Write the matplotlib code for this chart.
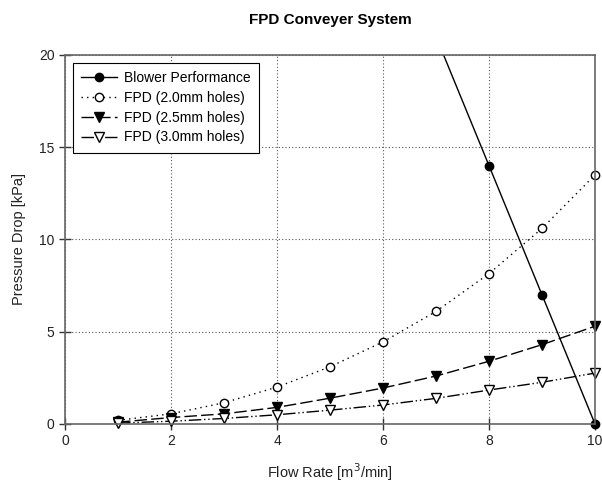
import matplotlib
matplotlib.use("Agg")
import matplotlib.pyplot as plt
from matplotlib.patches import Rectangle

plt.rcParams['font.family'] = ['Liberation Sans', 'DejaVu Sans']

# data
blower_x = [7, 8, 9, 10]
blower_y = [21, 14, 7, 0]

flow = [1, 2, 3, 4, 5, 6, 7, 8, 9, 10]
fpd_20 = [0.2, 0.55, 1.15, 2.0, 3.1, 4.45, 6.1, 8.15, 10.6, 13.5]
fpd_25 = [0.1, 0.35, 0.55, 0.9, 1.4, 1.95, 2.6, 3.4, 4.3, 5.3]
fpd_30 = [0.05, 0.15, 0.3, 0.5, 0.75, 1.03, 1.39, 1.84, 2.26, 2.76]

fig = plt.figure(figsize=(6.02, 4.9), dpi=100)
ax = fig.add_axes([0.108, 0.1347, 0.8804, 0.7531])

blower, = ax.plot(blower_x, blower_y, color='black', lw=1, marker='o', ms=6,
                  mfc='black', mec='black', label='Blower Performance')
# only cut the blower line at the top of the frame
blower.set_clip_path(Rectangle((-0.05, -0.05), 1.1, 1.05, transform=ax.transAxes))

ax.plot(flow, fpd_20, color='black', lw=1, ls=(0, (1, 3)), marker='o', ms=6,
        mfc='white', mec='black', label='FPD (2.0mm holes)', clip_on=False)
ax.plot(flow, fpd_25, color='black', lw=1, ls=(0, (9, 3)), marker='v', ms=6.5,
        mfc='black', mec='black', label='FPD (2.5mm holes)', clip_on=False)
ax.plot(flow, fpd_30, color='black', lw=1, ls=(0, (9, 2, 1, 2, 1, 2)), marker='v', ms=6.5,
        mfc='white', mec='black', label='FPD (3.0mm holes)', clip_on=False)

ax.set_xlim(0, 10)
ax.set_ylim(0, 20)
ax.set_xticks([0, 2, 4, 6, 8, 10])
ax.set_yticks([0, 5, 10, 15, 20])
ax.tick_params(direction='inout', length=8, width=1, labelsize=10,
               colors='#333333', labelcolor='#222222')
ax.grid(True, color='#555555', ls=(0, (1, 2)), lw=0.8)
for s in ax.spines.values():
    s.set_color('#666666')
    s.set_linewidth(1.2)

ax.set_title('FPD Conveyer System', fontsize=11, fontweight='bold', pad=22)
ax.set_xlabel('Flow Rate [m$^3$/min]', fontsize=10.5, labelpad=9, color='#222222')
ax.set_ylabel('Pressure Drop [kPa]', fontsize=10.5, labelpad=9, color='#222222')

leg = ax.legend(loc='upper left', fontsize=10, frameon=True, fancybox=False,
                edgecolor='black', framealpha=1, borderaxespad=0.55,
                handlelength=2.6, labelspacing=0.42, handletextpad=0.5,
                borderpad=0.6)
leg.get_frame().set_linewidth(0.8)

fig.savefig('out.png', dpi=100)
